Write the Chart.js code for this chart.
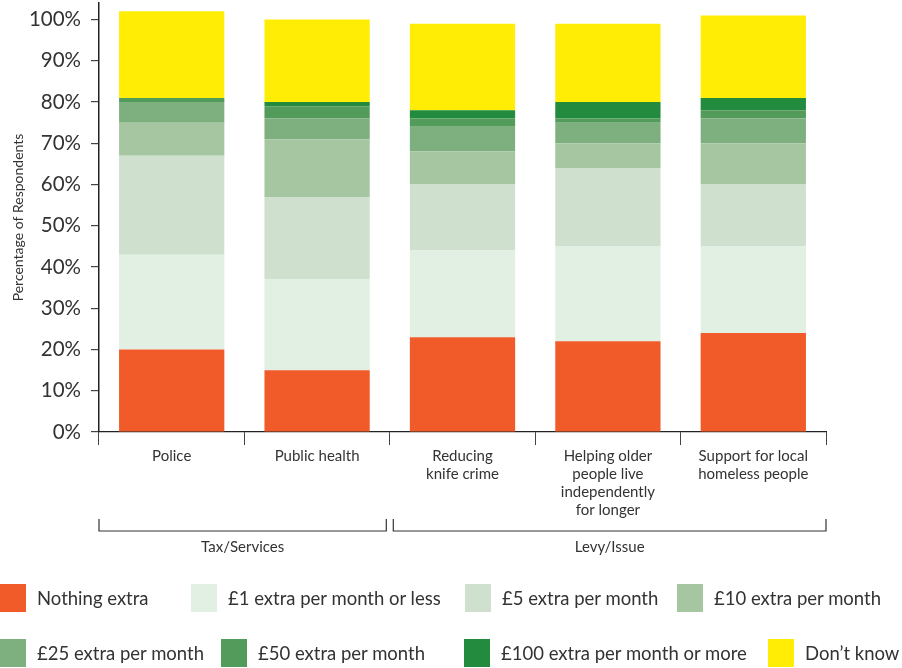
<!DOCTYPE html>
<html>
<head>
<meta charset="utf-8">
<script src="https://cdn.jsdelivr.net/npm/chart.js@4"></script>
<style>
  html, body { margin: 0; padding: 0; background: #fff; }
  #wrap { position: relative; width: 902px; height: 668px; }
  #legend { position: absolute; left: 0; top: 0; width: 902px; height: 668px; pointer-events: none; font-family: Lato, "Noto Sans", sans-serif; }
  .li { position: absolute; display: flex; align-items: center; font-size: 18.5px; color: #333; white-space: nowrap; }
  .li .box { width: 26px; height: 28px; margin-right: 11px; flex: none; }
</style>
</head>
<body>
<div id="wrap">
  <canvas id="c" width="902" height="668"></canvas>
  <div id="legend"></div>
</div>
<script>
// ---- Data ----
const categories = [
  ["Police"],
  ["Public health"],
  ["Reducing", "knife crime"],
  ["Helping older", "people live", "independently", "for longer"],
  ["Support for local", "homeless people"]
];
const groupLabels = ["Tax/Services", "Levy/Issue"];
const groupStart = [0, 2];
const groupEnd = [1, 4];

const seriesNames = [
  "Nothing extra",
  "£1 extra per month or less",
  "£5 extra per month",
  "£10 extra per month",
  "£25 extra per month",
  "£50 extra per month",
  "£100 extra per month or more",
  "Don’t know"
];
const nothingExtra = [20, 15, 23, 22, 24];
const extra1 = [23, 22, 21, 23, 21];
const extra5 = [24, 20, 16, 19, 15];
const extra10 = [8, 14, 8, 6, 10];
const extra25 = [5, 5, 6, 5, 6];
const extra50 = [1, 3, 2, 1, 2];
const extra100 = [0, 1, 2, 4, 3];
const dontKnow = [21, 20, 21, 19, 20];
const yTickValues = [0, 10, 20, 30, 40, 50, 60, 70, 80, 90, 100];

// ---- Styles ----
const colors = ["#f15a29", "#e2efe3", "#cfe0cf", "#a5c6a1", "#7eaf7e", "#539b5a", "#228b3e", "#ffed05"];
const seriesValues = [nothingExtra, extra1, extra5, extra10, extra25, extra50, extra100, dontKnow];
const FONT = 'Lato, "Noto Sans", sans-serif';
const TEXT = '#333';

const datasets = seriesNames.map((name, i) => ({
  label: name,
  data: seriesValues[i],
  backgroundColor: colors[i],
  borderWidth: 0,
  barPercentage: 0.724,
  categoryPercentage: 1.0
}));

const bracketPlugin = {
  id: 'brackets',
  afterDraw(chart) {
    const x = chart.scales.x;
    const ctx = chart.ctx;
    const half = (x.getPixelForValue(1) - x.getPixelForValue(0)) / 2;
    const yTop = 519, yBot = 531;
    ctx.save();
    ctx.strokeStyle = '#333';
    ctx.lineWidth = 1.2;
    ctx.fillStyle = TEXT;
    ctx.font = '15px ' + FONT;
    ctx.textAlign = 'center';
    ctx.textBaseline = 'middle';
    groupLabels.forEach((lab, g) => {
      let l = x.getPixelForValue(groupStart[g]) - half;
      let r = x.getPixelForValue(groupEnd[g]) + half;
      if (g > 0) l += 3.5;
      if (g < groupLabels.length - 1) r -= 3.5;
      ctx.beginPath();
      ctx.moveTo(l, yTop);
      ctx.lineTo(l, yBot);
      ctx.lineTo(r, yBot);
      ctx.lineTo(r, yTop);
      ctx.stroke();
      ctx.fillText(lab, (l + r) / 2, 547);
    });
    ctx.restore();
  }
};

const chart = new Chart(document.getElementById('c'), {
  type: 'bar',
  data: { labels: categories, datasets },
  plugins: [bracketPlugin],
  options: {
    responsive: false,
    animation: false,
    devicePixelRatio: 1,
    layout: { padding: { top: 3, right: 76, left: 0, bottom: 0 } },
    plugins: { legend: { display: false }, tooltip: { enabled: false } },
    scales: {
      x: {
        stacked: true,
        offset: true,
        grid: { display: true, drawOnChartArea: false, offset: true, tickLength: 13, color: '#444', lineWidth: 1 },
        border: { display: true, color: '#222', width: 1.2 },
        ticks: { color: TEXT, font: { family: FONT, size: 15, lineHeight: 1.2 }, padding: 2, maxRotation: 0, autoSkip: false },
        afterFit(s) { s.height = 236; s.paddingLeft = 0; s.paddingRight = 0; }
      },
      y: {
        stacked: true,
        min: 0,
        max: 104,
        afterBuildTicks(s) { s.ticks = yTickValues.map(v => ({ value: v })); },
        grid: { display: true, drawOnChartArea: false, tickLength: 8, color: '#444', lineWidth: 1.2 },
        border: { display: true, color: '#222', width: 1.5 },
        ticks: { color: TEXT, font: { family: FONT, size: 20.5 }, padding: 10, callback: v => v + '%' },
        title: { display: true, text: 'Percentage of Respondents', color: TEXT, font: { family: FONT, size: 14 }, padding: { top: 10, bottom: 0 } },
        afterFit(s) { s.width = 99; s.paddingTop = 0; s.paddingBottom = 0; }
      }
    }
  }
});

// ---- HTML legend ----
const legendRowTop = [584, 639];
const legendLeft = [0, 191, 465, 677, 0, 221, 464, 768];
const legend = document.getElementById('legend');
chart.data.datasets.forEach((ds, i) => {
  const row = Math.floor(i / 4);
  const el = document.createElement('div');
  el.className = 'li';
  el.style.left = legendLeft[i] + 'px';
  el.style.top = legendRowTop[row] + 'px';
  const b = document.createElement('span');
  b.className = 'box';
  b.style.background = ds.backgroundColor;
  const t = document.createElement('span');
  t.textContent = ds.label;
  el.appendChild(b); el.appendChild(t);
  legend.appendChild(el);
});
</script>
</body>
</html>
